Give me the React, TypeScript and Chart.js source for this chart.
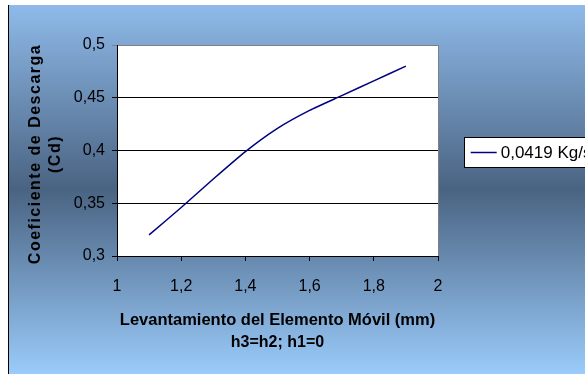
import React, { useEffect, useRef } from "react";
import { Chart, registerables } from "chart.js";

Chart.register(...registerables);

const liftMm = [1.1, 1.2, 1.3, 1.4, 1.5, 1.6, 1.7, 1.8, 1.9];
const dischargeCoef = [0.32, 0.346, 0.373, 0.399, 0.421, 0.438, 0.452, 0.466, 0.48];
const seriesLabel = "0,0419 Kg/s";
const xTitleLines = ["Levantamiento del Elemento Móvil (mm)", "h3=h2; h1=0"];
const yTitleLines = ["Coeficiente de Descarga", "(Cd)"];

const W = 577;
const H = 369;

const fmt = (v: number, d: number) => String(Number(v.toFixed(d))).replace(".", ",");

const decorPlugin = {
  id: "decor",
  beforeDraw(chart: any) {
    const { ctx, chartArea } = chart;
    ctx.save();
    const g = ctx.createLinearGradient(0, 0, 0, H);
    g.addColorStop(0, "#8fbae9");
    g.addColorStop(0.5, "#4a6382");
    g.addColorStop(1, "#9acbfa");
    ctx.fillStyle = g;
    ctx.fillRect(0, 0, W, H);
    ctx.fillStyle = "#000";
    ctx.fillRect(0, 0, 1, H);
    // plot area
    ctx.fillStyle = "#ffffff";
    ctx.fillRect(chartArea.left, chartArea.top, chartArea.right - chartArea.left, chartArea.bottom - chartArea.top);
    ctx.strokeStyle = "#808080";
    ctx.lineWidth = 1;
    ctx.strokeRect(Math.round(chartArea.left) + 0.5, Math.round(chartArea.top) + 0.5, Math.round(chartArea.right - chartArea.left), Math.round(chartArea.bottom - chartArea.top));
    ctx.restore();
  },
  afterDraw(chart: any) {
    const { ctx, chartArea } = chart;
    ctx.save();
    // x title
    ctx.fillStyle = "#000";
    ctx.textAlign = "center";
    ctx.textBaseline = "middle";
    const cx = (chartArea.left + chartArea.right) / 2;
    ctx.font = "bold 16.5px 'Liberation Sans', Arial, sans-serif";
    ctx.fillText(xTitleLines[0], cx, 315);
    ctx.font = "bold 16px 'Liberation Sans', Arial, sans-serif";
    ctx.fillText(xTitleLines[1], cx, 338);
    // y title
    ctx.save();
    ctx.translate(28, 149);
    ctx.rotate(-Math.PI / 2);
    ctx.font = "bold 16px 'Liberation Sans', Arial, sans-serif";
    (ctx as any).letterSpacing = "1.5px";
    ctx.fillText(yTitleLines[0], 0, 0);
    ctx.fillText(yTitleLines[1], 0, 19.5);
    (ctx as any).letterSpacing = "0px";
    ctx.restore();
    // legend
    const bx = 456.5, by = 132.5, bh = 30;
    ctx.fillStyle = "#ffffff";
    ctx.fillRect(bx, by, 200, bh);
    ctx.strokeStyle = "#000";
    ctx.lineWidth = 1;
    ctx.strokeRect(bx, by, 200, bh);
    const ds = chart.data.datasets[0];
    ctx.strokeStyle = ds.borderColor;
    ctx.lineWidth = 1.5;
    ctx.beginPath();
    ctx.moveTo(462.7, by + bh / 2);
    ctx.lineTo(488.7, by + bh / 2);
    ctx.stroke();
    ctx.fillStyle = "#000";
    ctx.textAlign = "left";
    ctx.font = "17px 'Liberation Sans', Arial, sans-serif";
    ctx.fillText(ds.label, 492.7, by + bh / 2 + 1);
    ctx.restore();
  },
};

export default function App() {
  const ref = useRef<HTMLCanvasElement>(null);
  useEffect(() => {
    if (!ref.current) return;
    const chart = new Chart(ref.current, {
      type: "line",
      data: {
        datasets: [
          {
            label: seriesLabel,
            data: liftMm.map((x, i) => ({ x, y: dischargeCoef[i] })),
            borderColor: "#000080",
            borderWidth: 1.5,
            pointRadius: 0,
            tension: 0.2,
            fill: false,
          },
        ],
      },
      options: {
        animation: false,
        responsive: false,
        devicePixelRatio: 1,
        layout: { padding: { left: 0, right: 147, top: 40, bottom: 0 } },
        plugins: { legend: { display: false }, tooltip: { enabled: false } },
        scales: {
          x: {
            type: "linear",
            min: 1,
            max: 2,
            afterFit: (s: any) => { s.height = 118; },
            ticks: {
              stepSize: 0.2,
              color: "#000",
              padding: 16,
              font: { family: "'Liberation Sans', Arial, sans-serif", size: 16 },
              callback: (v: any) => fmt(Number(v), 1),
              maxRotation: 0,
            },
            grid: { drawOnChartArea: false, drawTicks: true, tickLength: 5, color: "#000" },
            border: { display: true, color: "#000" },
          },
          y: {
            type: "linear",
            min: 0.3,
            max: 0.5,
            afterFit: (s: any) => { s.width = 109; },
            ticks: {
              stepSize: 0.05,
              color: "#000",
              padding: 7,
              font: { family: "'Liberation Sans', Arial, sans-serif", size: 16 },
              callback: (v: any) => fmt(Number(v), 2),
            },
            grid: {
              drawTicks: true,
              tickLength: 5,
              color: (c: any) => (c.tick && Math.abs(c.tick.value - 0.5) < 1e-6 ? "#808080" : "#000"),
            },
            border: { display: true, color: "#000" },
          },
        },
      },
      plugins: [decorPlugin],
    });
    return () => chart.destroy();
  }, []);
  return (
    <div style={{ position: "absolute", left: 8, top: 5, width: W, height: H }}>
      <canvas ref={ref} width={W} height={H} style={{ width: W, height: H, display: "block" }} />
    </div>
  );
}
